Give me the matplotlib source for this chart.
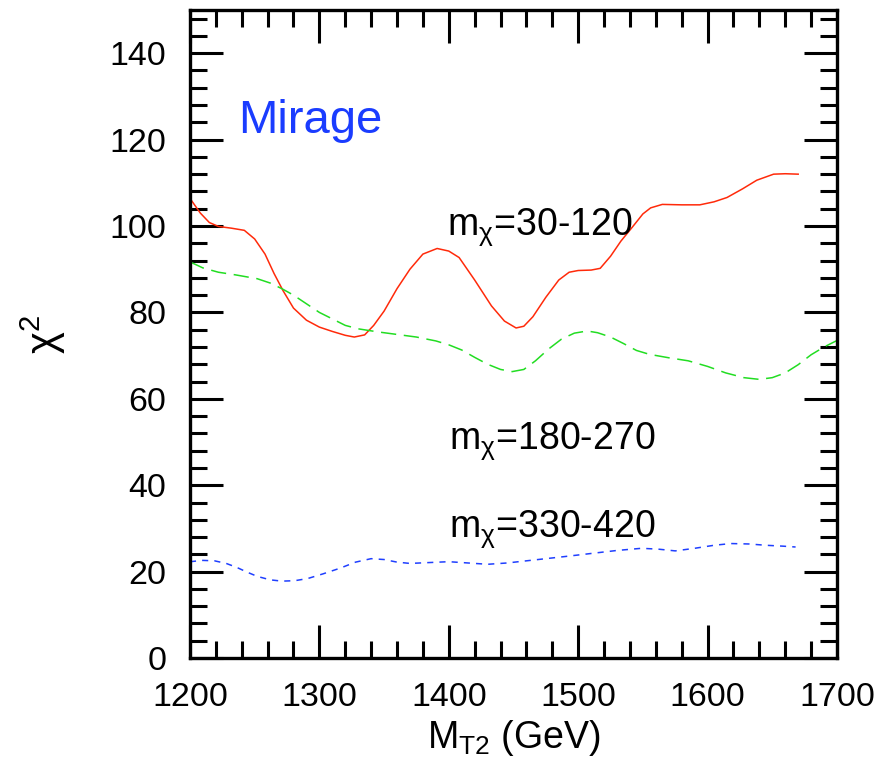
import numpy as np
import matplotlib
matplotlib.use('Agg')
import matplotlib.pyplot as plt
from matplotlib.ticker import MultipleLocator

plt.rcParams['font.family'] = ['Liberation Sans', 'DejaVu Sans']
plt.rcParams['mathtext.fontset'] = 'custom'
plt.rcParams['mathtext.rm'] = 'Liberation Sans'
plt.rcParams['mathtext.it'] = 'Liberation Sans:italic'

# m_chi = 30-120 (red, solid)
red_x = [1200, 1208, 1215, 1222, 1232, 1242, 1250, 1258, 1265, 1272, 1280, 1290,
         1300, 1310, 1320, 1327, 1335, 1342, 1350, 1360, 1370, 1380, 1391, 1400,
         1408, 1420, 1433, 1443, 1452, 1458, 1465, 1475, 1485, 1493, 1500, 1510,
         1517, 1525, 1533, 1542, 1550, 1556, 1565, 1580, 1594, 1605, 1615, 1627,
         1638, 1651, 1660, 1670]
red_y = [106.4, 103.0, 100.8, 99.9, 99.5, 99.0, 97.0, 93.5, 89.0, 85.0, 81.0, 78.2,
         76.6, 75.6, 74.7, 74.3, 74.8, 77.0, 80.3, 85.5, 90.0, 93.5, 94.8, 94.2,
         92.7, 87.5, 81.5, 78.0, 76.4, 76.8, 79.0, 83.5, 87.5, 89.3, 89.7, 89.8,
         90.2, 93.0, 96.5, 99.8, 102.8, 104.2, 105.0, 104.9, 104.9, 105.6, 106.6, 108.6,
         110.6, 112.0, 112.1, 112.0]

# m_chi = 180-270 (green, dashed)
green_x = [1200, 1210, 1222, 1235, 1252, 1262, 1271, 1280, 1290, 1300, 1310, 1320,
           1330, 1345, 1360, 1375, 1390, 1400, 1410, 1420, 1430, 1440, 1449, 1458,
           1467, 1477, 1487, 1497, 1507, 1515, 1525, 1535, 1545, 1555, 1570, 1585,
           1600, 1614, 1628, 1640, 1650, 1660, 1670, 1680, 1690, 1700]
green_y = [91.7, 90.3, 89.3, 88.7, 87.8, 86.8, 85.5, 84.0, 82.0, 80.0, 78.5, 77.0,
           76.2, 75.5, 74.9, 74.3, 73.4, 72.5, 71.3, 69.6, 68.0, 66.8, 66.3, 66.8,
           68.8, 71.5, 73.8, 75.2, 75.7, 75.3, 74.3, 72.8, 71.2, 70.3, 69.5, 68.8,
           67.5, 66.0, 64.9, 64.5, 64.9, 66.0, 67.9, 70.2, 72.0, 73.5]

# m_chi = 330-420 (blue, dotted)
blue_x = [1200, 1210, 1219, 1228, 1236, 1244, 1252, 1262, 1271, 1281, 1291, 1303,
          1316, 1328, 1340, 1350, 1360, 1370, 1385, 1400, 1415, 1430, 1445, 1460,
          1475, 1490, 1510, 1530, 1549, 1562, 1575, 1590, 1605, 1618, 1632, 1645,
          1658, 1668]
blue_y = [22.3, 22.6, 22.5, 21.9, 21.0, 19.9, 18.9, 18.1, 17.8, 17.9, 18.4, 19.5,
          20.8, 22.2, 23.0, 22.8, 22.2, 21.9, 22.1, 22.3, 22.0, 21.7, 22.0, 22.5,
          23.0, 23.5, 24.2, 24.9, 25.4, 25.2, 24.8, 25.4, 26.1, 26.5, 26.4, 26.1,
          25.9, 25.7]

fig = plt.figure(figsize=(8.86, 7.69), dpi=100)
ax = fig.add_axes([0.2144, 0.1443, 0.7303, 0.8427])

ax.plot(red_x, red_y, color='#ff2a0a', lw=1.1)
ax.plot(green_x, green_y, color='#22dd22', lw=1.1, dashes=(10, 5))
ax.plot(blue_x, blue_y, color='#1f3fff', lw=1.1, dashes=(4, 4))

ax.set_xlim(1200, 1700)
ax.set_ylim(0, 150)
ax.xaxis.set_major_locator(MultipleLocator(100))
ax.xaxis.set_minor_locator(MultipleLocator(20))
ax.yaxis.set_major_locator(MultipleLocator(20))
ax.yaxis.set_minor_locator(MultipleLocator(4))
ax.set_yticks(range(0, 141, 20))
ax.tick_params(which='both', direction='in', top=True, right=True, width=2.2,
               labelsize=24.5)
ax.tick_params(which='major', length=24, pad=17)
ax.tick_params(which='minor', length=12)
for s in ax.spines.values():
    s.set_linewidth(2.4)

ax.text(1237.5, 121.5, 'Mirage', color='#1a3cff', fontsize=34, va='baseline')
lab_fs = 27
ax.text(1399, 97.9, r'm$_\mathregular{\chi}$=30-120', fontsize=lab_fs, va='baseline')
ax.text(1400, 48.4, r'm$_\mathregular{\chi}$=180-270', fontsize=lab_fs, va='baseline')
ax.text(1400, 28.1, r'm$_\mathregular{\chi}$=330-420', fontsize=lab_fs, va='baseline')

ax.set_xlabel(r'M$_\mathregular{T2}$ (GeV)', fontsize=27, labelpad=4)
ax.set_ylabel(r'$\mathregular{\chi^2}$', fontsize=30, labelpad=30)

fig.savefig('out.png', dpi=100)
